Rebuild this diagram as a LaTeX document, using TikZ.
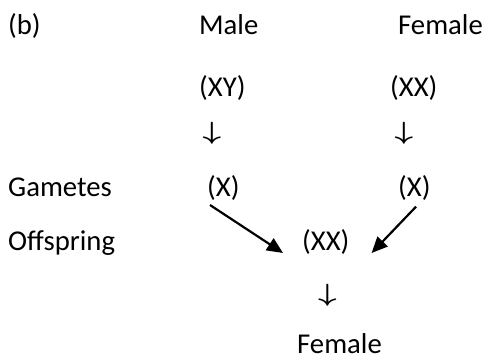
\documentclass[tikz,border=0pt]{standalone}
\usepackage{fontspec}
\setmainfont{Carlito}
\usetikzlibrary{arrows.meta,calc}
\begin{document}
\begin{tikzpicture}[x=1pt,y=-1pt,
  lbl/.style={anchor=base west,inner sep=0pt,font=\fontsize{28.7}{30}\selectfont},
  darr/.style={anchor=center,inner sep=0pt,font=\fontsize{31}{33}\selectfont\boldmath},
  arr/.style={line width=2.2pt,-{Triangle[length=16pt,width=14pt]}}]
\useasboundingbox (0,0) rectangle (486,358);
\node[lbl] (b) at (8,34.5) {(b)};
\node[lbl] (male) at (199,34.5) {Male};
\node[lbl] (female) at (398,34.5) {Female};
\node[lbl] (xy) at (199,96.7) {(XY)};
\node[lbl] (xxp) at (390,96.7) {(XX)};
\node[darr] (d1) at (212,133) {\scalebox{1.3}[1]{$\downarrow$}};
\node[darr] (d2) at (404,133) {\scalebox{1.3}[1]{$\downarrow$}};
\node[lbl] (gam) at (8,196.7) {Gametes};
\node[lbl] (gl) at (207,196.7) {(X)};
\node[lbl] (gr) at (398,196.7) {(X)};
\node[lbl] (off) at (8,250) {Offspring};
\node[lbl] (xx) at (302,250) {(XX)};
\node[darr] (d3) at (327.5,295) {\scalebox{1.3}[1]{$\downarrow$}};
\node[lbl] (fem) at (297,353.5) {Female};
\draw[arr] ([xshift=3pt,yshift=-8.3pt]gl.base west) -- ([xshift=-19pt,yshift=-3pt]xx.base west);
\draw[arr] ([xshift=18pt,yshift=-10pt]gr.base west) -- ([xshift=22pt,yshift=-3pt]xx.base east);
\end{tikzpicture}
\end{document}
